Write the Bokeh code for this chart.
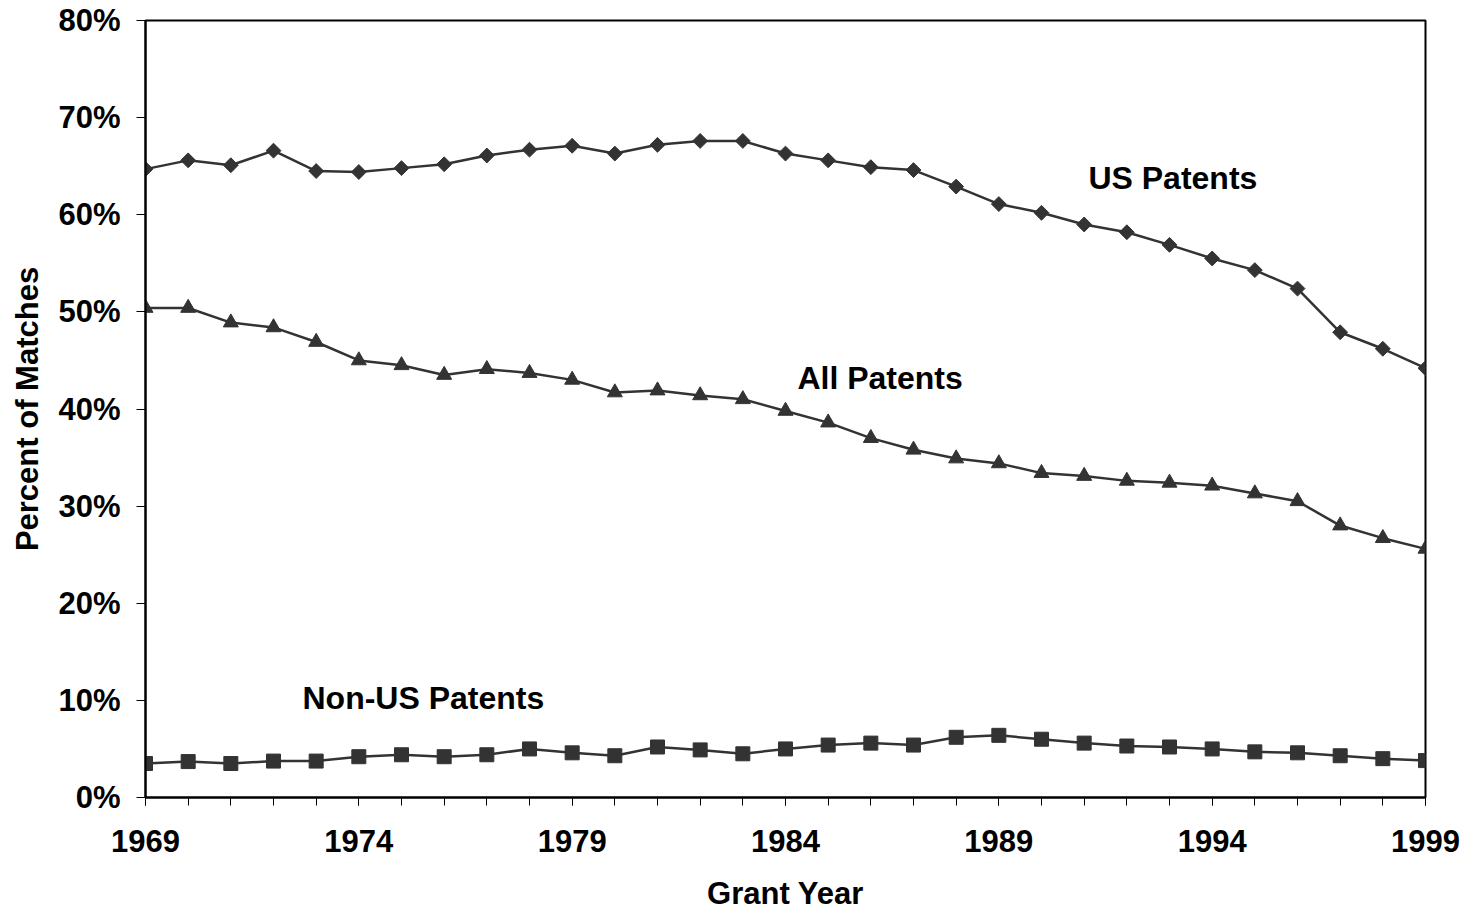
import numpy as np
from bokeh.plotting import figure
from bokeh.models import FixedTicker, PrintfTickFormatter, Range1d, Label
from bokeh.embed import file_html
from bokeh.resources import INLINE

years = list(range(1969, 2000))
us_patents = [64.7, 65.6, 65.1, 66.6, 64.5, 64.4, 64.8, 65.2, 66.1, 66.7, 67.1,
              66.3, 67.2, 67.6, 67.6, 66.3, 65.6, 64.9, 64.6, 62.9, 61.1,
              60.2, 59.0, 58.2, 56.9, 55.5, 54.3, 52.4, 47.9, 46.2, 44.2]
all_patents = [50.4, 50.4, 48.9, 48.4, 46.9, 45.0, 44.5, 43.5, 44.1, 43.7, 43.0,
               41.7, 41.9, 41.4, 41.0, 39.8, 38.6, 37.0, 35.8, 34.9, 34.4,
               33.4, 33.1, 32.6, 32.4, 32.1, 31.3, 30.5, 28.0, 26.7, 25.6]
non_us_patents = [3.5, 3.7, 3.5, 3.75, 3.75, 4.2, 4.4, 4.2, 4.4, 5.0, 4.6,
                  4.3, 5.2, 4.9, 4.5, 5.0, 5.4, 5.6, 5.4, 6.2, 6.4,
                  6.0, 5.6, 5.3, 5.2, 5.0, 4.7, 4.6, 4.3, 4.0, 3.8]
series_labels = ["US Patents", "All Patents", "Non-US Patents"]
x_tick_labels = [1969, 1974, 1979, 1984, 1989, 1994, 1999]
y_ticks = [0, 10, 20, 30, 40, 50, 60, 70, 80]

FONT = "Liberation Sans"
LINE = "#333333"

p = figure(width=1465, height=913, output_backend="svg", toolbar_location=None,
           x_range=Range1d(1969, 1999), y_range=Range1d(0, 80),
           min_border_left=145, min_border_right=40, min_border_top=20,
           min_border_bottom=116)
p.background_fill_color = "white"
p.border_fill_color = "white"
p.outline_line_color = "black"
p.outline_line_width = 2
p.xgrid.visible = False
p.ygrid.visible = False

# lines
p.line(years, us_patents, line_color=LINE, line_width=2.5)
p.line(years, all_patents, line_color=LINE, line_width=2.5)
p.line(years, non_us_patents, line_color=LINE, line_width=2.5)

# markers
p.scatter(years, us_patents, marker="square", angle=np.pi / 4, size=10.5,
          fill_color=LINE, line_color=LINE)
p.scatter(years, all_patents, marker="triangle", size=15,
          fill_color=LINE, line_color=LINE)
p.scatter(years, non_us_patents, marker="square", size=14,
          fill_color=LINE, line_color=LINE)

# axes
xa = p.xaxis[0]
xa.ticker = FixedTicker(ticks=x_tick_labels, minor_ticks=years)
xa.axis_label = "Grant Year"
ya = p.yaxis[0]
ya.ticker = FixedTicker(ticks=y_ticks)
ya.formatter = PrintfTickFormatter(format="%d%%")
ya.axis_label = "Percent of Matches"

for ax in (xa, ya):
    ax.axis_line_color = "black"
    ax.axis_line_width = 2
    ax.major_tick_line_color = "black"
    ax.major_tick_line_width = 1
    ax.major_tick_in = 0
    ax.major_label_text_font = FONT
    ax.major_label_text_font_size = "31px"
    ax.major_label_text_font_style = "bold"
    ax.major_label_text_color = "black"
    ax.axis_label_text_font = FONT
    ax.axis_label_text_font_size = "31px"
    ax.axis_label_text_font_style = "bold"
    ax.axis_label_text_color = "black"

xa.major_tick_out = 8
xa.minor_tick_out = 8
xa.minor_tick_in = 0
xa.minor_tick_line_color = "black"
xa.minor_tick_line_width = 1
xa.major_label_standoff = 24
xa.axis_label_standoff = 21

ya.major_tick_out = 9
ya.minor_tick_line_color = None
ya.major_label_standoff = 16
ya.axis_label_standoff = 10

# series annotations
label_pos = [(1991.1, 63.8), (1984.28, 43.2), (1972.68, 10.2)]
for txt, (lx, ly) in zip(series_labels, label_pos):
    p.add_layout(Label(x=lx, y=ly, text=txt, text_font=FONT, text_font_size="32px",
                       text_font_style="bold", text_color="black",
                       text_baseline="middle", text_align="left"))

open("out.html", "w").write(file_html(p, INLINE))
